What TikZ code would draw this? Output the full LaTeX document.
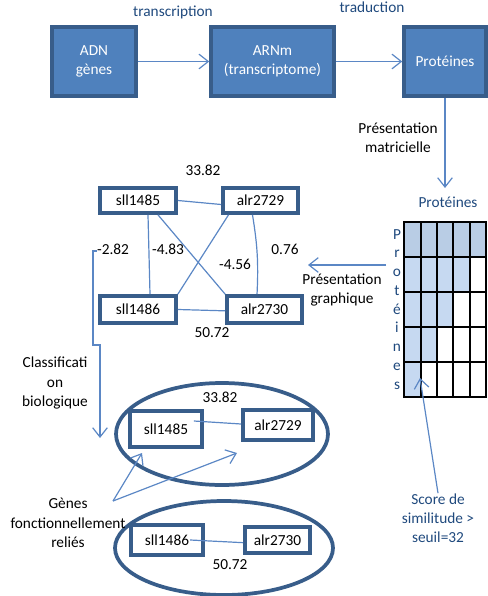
\documentclass[tikz,border=0pt]{standalone}
\usepackage{fontspec}
\setmainfont{Carlito}
\usetikzlibrary{arrows.meta,shapes.geometric,calc}
\definecolor{boxfill}{HTML}{4F81BD}
\definecolor{boxline}{HTML}{385D8A}
\definecolor{conncol}{HTML}{5B87C5}
\definecolor{navy}{HTML}{1F497D}
\definecolor{gridA}{HTML}{B9CDE5}
\definecolor{gridB}{HTML}{C6D9F1}
\begin{document}
\begin{tikzpicture}[x=0.75pt,y=-0.75pt,
  font=\fontsize{11.5}{14.4}\selectfont,
  topbox/.style={draw=boxline, fill=boxfill, line width=2.6pt, text=white, align=center, inner sep=0pt},
  gbox/.style={draw=boxline, fill=white, line width=2.8pt, inner sep=0pt},
  conn/.style={draw=conncol, line width=0.9pt},
  arr/.style={-{Straight Barb[length=7pt,width=11pt]}},
  lbl/.style={align=center, inner sep=0pt},
  ell/.style={ellipse, draw=boxline, line width=2.8pt, inner sep=0pt}]
\useasboundingbox (0,0) rectangle (488,596);

% top chain
\node[topbox, minimum width=63pt, minimum height=51.75pt] (adn) at (94,61.5) {ADN\\gènes};
\node[topbox, minimum width=92.25pt, minimum height=51.75pt] (arn) at (272.5,61.5) {ARNm\\(transcriptome)};
\node[topbox, minimum width=61.5pt, minimum height=51.75pt] (prot) at (445,61.5) {Protéines};
\node[lbl, text=navy] (ltr) at (173,12) {transcription};
\node[lbl, text=navy] (ltd) at (372,7) {traduction};
\draw[conn,arr] (adn) -- (arn);
\draw[conn,arr] (arn) -- (prot);
\coordinate (pm) at (445,188);
\draw[conn,arr] (prot.south) -- (pm);
\node[lbl] (lpm) at (398,138) {Présentation\\matricielle};
\node[lbl, text=navy] (lprot) at (448,202) {Protéines};

% matrix
\foreach \ya/\yb/\r in {222/257/0,257/292/1,292/327/2,327/362/3,362/397/4}{
  \foreach \xa/\xb/\c in {404/421/0,421/437/1,437/453/2,453/470/3,470/486/4}{
    \ifnum\numexpr\c+\r\relax<5
      \ifnum\r=0 \fill[gridA] (\xa,\ya) rectangle (\xb,\yb);
      \else \fill[gridB] (\xa,\ya) rectangle (\xb,\yb); \fi
    \fi
  }}
\foreach \x in {404,421,437,453,470,486}
  \draw[line width=1.9pt, line cap=rect] (\x,222) -- (\x,397);
\foreach \y in {222,257,292,327,362,397}
  \draw[line width=1.9pt, line cap=rect] (404,\y) -- (486,\y);
\foreach \ch [count=\i from 0] in {P,r,o,t,é,i,n,e,s}
  \node[text=navy, inner sep=0pt, anchor=base] (v\i) at (397,239+18.75*\i) {\ch};

% graph
\coordinate (gs) at (386,265);
\coordinate (gt) at (308,265);
\draw[conn,arr] (gs) -- (gt);
\node[lbl] (lpg) at (342,290) {Présentation\\graphique};

\node[gbox, minimum width=57pt, minimum height=18.75pt] (a) at (138,200.5) {sll1485};
\node[gbox, minimum width=56.25pt, minimum height=18.75pt] (b) at (260.5,200.5) {alr2729};
\node[gbox, minimum width=57pt, minimum height=20.25pt] (c) at (138,309.5) {sll1486};
\node[gbox, minimum width=56.25pt, minimum height=20.25pt] (d) at (264.5,309.5) {alr2730};
\draw[conn] (a.east) -- ([yshift=-3pt]b.west);
\draw[conn] ([xshift=7.5pt]a.south) -- ([xshift=9pt]c.north);
\draw[conn] ([xshift=15pt]a.south) -- (d.north west);
\draw[conn] ([xshift=-24pt]b.south) -- (c.north east);
\draw[conn] ([xshift=-6pt]b.south) to[bend left=6] ([xshift=-5.6pt]d.north);
\draw[conn] (c.east) -- ([yshift=-1pt]d.west);
\node[lbl] (n1) at (203,170) {33.82};
\node[lbl] (n2) at (212,333) {50.72};
\node[lbl] (n3) at (113,249) {-2.82};
\node[lbl] (n4) at (168,249) {-4.83};
\node[lbl] (n5) at (235,264) {-4.56};
\node[lbl] (n6) at (285,249) {0.76};

% classification arrow
\coordinate (k1) at (97,251);
\coordinate (k2) at (100,438);
\draw[conn,arr] (k1) -- ++(-4,0) -- ++(0,94) -- ++(7,0) -- (k2);
\node[lbl] (lcl) at (55,383) {Classificati\\on\\biologique};

% ellipses
\node[ell, minimum width=159pt, minimum height=76.5pt] (e1) at (222,434) {};
\node[ell, minimum width=163.5pt, minimum height=70.5pt] (e2) at (224,548) {};
\node[gbox, minimum width=54pt, minimum height=27pt] (a2) at (166,429) {sll1485};
\node[gbox, minimum width=52.5pt, minimum height=22.5pt] (b2) at (278,425) {alr2729};
\node[gbox, minimum width=54pt, minimum height=22.5pt] (c2) at (167,540) {sll1486};
\node[gbox, minimum width=48.75pt, minimum height=19.5pt] (d2) at (277.5,540) {alr2730};
\draw[conn] ([shift={(-7.5pt,6pt)}]a2.east) -- ([yshift=0.75pt]b2.west);
\draw[conn] ([xshift=-11pt]c2.east) -- ([yshift=-2pt]d2.west);
\node[lbl] (n7) at (220,397) {33.82};
\node[lbl] (n8) at (230,565) {50.72};

% genes arrows
\node[lbl] (lg) at (68,523) {Gènes\\fonctionnellement\\reliés};
\coordinate (g0) at (113,501);
\coordinate (g1) at (142,453);
\coordinate (g2) at (237,453);
\draw[conn,arr] (g0) -- (g1);
\draw[conn,arr] (g0) -- (g2);

% score
\node[lbl, text=navy] (sc) at (438,518) {Score de\\similitude >\\seuil=32};
\coordinate (mt) at (420,378);
\draw[conn,arr] (sc.north) -- (mt);
\end{tikzpicture}
\end{document}
